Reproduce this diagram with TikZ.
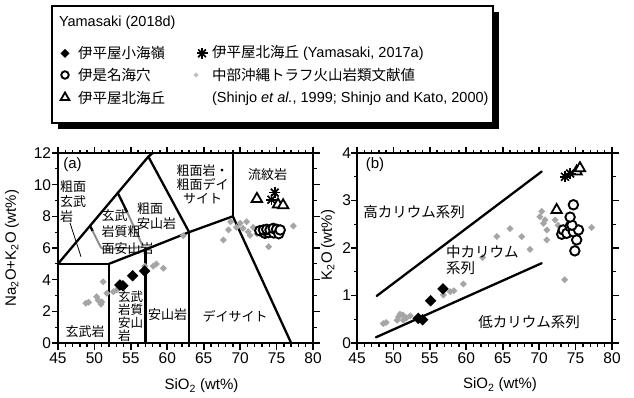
\documentclass[tikz,border=0pt]{standalone}
\usepackage{fontspec}
\setmainfont{Liberation Sans}
\newfontfamily\jp{Noto Sans CJK JP}
\usetikzlibrary{shapes.geometric}
\definecolor{ptgray}{RGB}{165,165,165}
\definecolor{lggray}{RGB}{190,190,190}
\definecolor{boxgray}{RGB}{140,140,140}
\newcommand\fsTick{\fontsize{15.5}{18}\selectfont}
\newcommand\fsLeg{\fontsize{14.5}{17}\selectfont}
\newcommand\fsLab{\fontsize{15}{18}\selectfont}
\tikzset{
  every node/.style={inner sep=0pt,outer sep=0pt},
  frm/.style={line width=2pt},
  bnd/.style={line width=2.3pt,line cap=round,line join=round},
  gbnd/.style={line width=1.9pt,draw=boxgray,rounded corners=2pt},
  tkmaj/.style={line width=1.6pt},
  tkmin/.style={line width=1.3pt},
  gpt/.style={diamond,fill=ptgray,minimum size=7pt},
  bdia/.style={diamond,fill=black,minimum size=11.5pt},
  ocir/.style={circle,draw=black,fill=white,line width=1.9pt,minimum size=9.5pt},
  otri/.style={regular polygon,regular polygon sides=3,draw=black,fill=white,line width=1.8pt,minimum size=12pt},
  astk/.pic={\foreach \a in {0,45,90,135}{\draw[line width=1.7pt] (\a:5.5pt)--(\a+180:5.5pt);}},
  tlab/.style={font=\fsTick},
  jpa/.style={font=\fontsize{13}{15}\selectfont\jp},
  jpb/.style={font=\fontsize{14.5}{16.6}\selectfont\jp},
}
\begin{document}
\begin{tikzpicture}[x=1pt,y=1pt]
\useasboundingbox (0,0) rectangle (634,397);

% ---------------- legend ----------------
\fill[black] (58,268) rectangle (499,385);
\draw[line width=1.6pt,fill=white] (52,274) rectangle (493,391);
\node[anchor=west,font=\fsLeg] (lgt) at (59,374) {Yamasaki (2018d)};
\node[bdia,minimum size=9pt] (lgm1) at (65,343.7) {};
\node[anchor=west,font=\fsLeg\jp] (lgl1) at (78,343.7) {伊平屋小海嶺};
\node[ocir,minimum size=7.5pt] (lgm2) at (65,322) {};
\node[anchor=west,font=\fsLeg\jp] (lgl2) at (78,322) {伊是名海穴};
\node[otri,minimum size=10pt] (lgm3) at (65,299.5) {};
\node[anchor=west,font=\fsLeg\jp] (lgl3) at (78,298.7) {伊平屋北海丘};
\pic at (202,343.7) {astk};
\node[anchor=west,font=\fsLeg] (lgl4) at (212,343.7) {{\jp 伊平屋北海丘} (Yamasaki, 2017a)};
\node[diamond,fill=lggray,minimum size=5pt] (lgm5) at (196,322) {};
\node[anchor=west,font=\fsLeg\jp] (lgl5) at (212,322) {中部沖縄トラフ火山岩類文献値};
\node[anchor=west,font=\fsLeg] (lgl6) at (212,298.7) {(Shinjo \textit{et al.}, 1999; Shinjo and Kato, 2000)};

% ---------------- panel (a) ----------------
\begin{scope}[shift={(-269.857pt,54pt)},x=7.285714pt,y=15.833333pt]
  \draw[bnd] (45,5) -- (52,5) -- (52,0);
  \draw[bnd] (52,5) -- (57,5.9) -- (63,7) -- (69,8) -- (77,0);
  \draw[bnd] (57,0) -- (57,5.9);
  \draw[bnd] (63,0) -- (63,7);
  \draw[bnd] (69,8) -- (69,12);
  \draw[bnd] (45,5) -- (57.4,11.77) -- (58.0,12);
  \draw[bnd] (57.4,11.77) -- (63,7);
  \draw[bnd] (49.4,7.4) -- (49.75,7.08);
  \draw[bnd] (53.2,9.48) -- (54.5,8.26);
  \draw[gbnd] (49.75,7.08) -- (51.0,5.92) -- (56.7,6.05) -- (54.5,8.26);
  \draw[line width=0.8pt] (46.65,7.58) -- (48.16,5.45);
  % data
  \foreach \p [count=\i] in {(48.84,2.51),(49.2,2.57),(50.3,2.92),(50.5,2.7),(50.9,2.45),(51.0,2.6),(51.2,3.87),(51.7,3.14),(52.6,3.24),(53.05,3.35),(56.9,4.86),(58.08,4.86),(58.5,4.99),(59.45,4.72),(62.2,6.78),(68.7,7.66),(68.4,7.14),(67.7,6.5),(70.0,7.56),(70.4,7.24),(70.9,7.66),(71.1,7.03),(71.8,7.3),(73.9,6.08),(77.3,7.39),(69.5,7.3),(71.35,6.8),(72.3,6.9)}
    \node[gpt] (ga\i) at \p {};
  \foreach \p [count=\i] in {(53.5,3.66),(53.9,3.62),(55.25,4.25),(56.9,4.55)}
    \node[bdia] (da\i) at \p {};
  \foreach \p [count=\i] in {(72.7,7.09),(73.4,6.93),(73.2,7.14),(73.9,6.97),(73.65,7.18),(74.1,7.14),(74.6,6.95),(74.55,7.24),(75.0,7.18),(75.3,6.9),(75.5,7.14)}
    \node[ocir] (ca\i) at \p {};
  \foreach \p [count=\i] in {(72.3,9.1),(75.2,8.75),(75.9,8.7)}
    \node[otri] (ta\i) at \p {};
  \foreach \p in {(74.3,9.05),(74.75,9.5)}
    \pic at \p {astk};
  % frame and ticks
  \draw[frm] (45,0) rectangle (80,12);
  \foreach \x in {45,50,...,80} {
    \draw[tkmaj] (\x,0) -- ++(0,-6.5pt);
    \draw[tkmaj] (\x,12) -- ++(0,6.5pt);
    \node[tlab] (xa\x) at (\x,0) [yshift=-15pt] {\x};
  }
  \foreach \x in {46,...,79} {
    \draw[tkmin] (\x,0) -- ++(0,-3.5pt);
    \draw[tkmin] (\x,12) -- ++(0,3.5pt);
  }
  \foreach \y in {0,2,...,12} {
    \draw[tkmaj] (45,\y) -- ++(-6.5pt,0);
    \draw[tkmaj] (80,\y) -- ++(6.5pt,0);
    \node[tlab,anchor=east] (ya\y) at (45,\y) [xshift=-7pt] {\y};
  }
  \foreach \y in {1,3,...,11} {
    \draw[tkmin] (45,\y) -- ++(-3.5pt,0);
    \draw[tkmin] (80,\y) -- ++(3.5pt,0);
  }
\end{scope}
% labels (a)
\node[font=\fsLab] (pa) at (72.5,232) {(a)};
\node[jpa,align=left,anchor=west] (la1) at (60,195.3) {粗面\\玄武\\岩};
\node[font=\fontsize{13}{16.5}\selectfont\jp,align=left,anchor=west] (la2) at (101.7,165.3) {玄武\\岩質粗\\面安山岩};
\node[jpa,align=left,anchor=west] (la3) at (137,181.2) {粗面\\安山岩};
\node[font=\fontsize{13}{14}\selectfont\jp,align=center] (la4) at (202.5,213) {粗面岩・\\粗面デイ\\サイト};
\node[jpa] (la5) at (267.5,222) {流紋岩};
\node[jpa] (la6) at (85,65.3) {玄武岩};
\node[font=\fontsize{12.5}{13}\selectfont\jp,align=left,anchor=west] (la7) at (118,81) {玄武\\岩質\\安山\\岩};
\node[jpa] (la8) at (167.5,82) {安山岩};
\node[jpa] (la9) at (235,80.3) {デイサイト};
\node[font=\fsLab,rotate=90] (yla) at (12,149) {Na\textsubscript{2}O+K\textsubscript{2}O (wt\%)};
\node[font=\fsLab] (xla) at (201.5,11) {SiO\textsubscript{2} (wt\%)};

% ---------------- panel (b) ----------------
\begin{scope}[shift={(29.143pt,54pt)},x=7.285714pt,y=47.5pt]
  \draw[bnd] (47.7,0.99) -- (70.35,3.61);
  \draw[bnd] (47.6,0.12) -- (70.35,1.68);
  \foreach \p [count=\i] in {(48.6,0.41),(49.0,0.43),(50.7,0.55),(50.9,0.61),(50.5,0.48),(51.35,0.48),(51.8,0.53),(52.3,0.57),(51.3,0.59),(56.85,1.01),(57.8,1.08),(58.3,1.1),(59.6,1.24),(62.25,1.80),(64.2,2.24),(66.0,2.41),(68.75,1.97),(67.6,2.24),(70.35,2.77),(70.1,2.66),(70.8,2.59),(70.6,2.52),(71.05,2.38),(71.05,2.17),(77.2,2.43),(72.6,2.48),(73.5,1.33),(72.2,2.59)}
    \node[gpt] (gb\i) at \p {};
  \foreach \p [count=\i] in {(53.4,0.52),(54.0,0.49),(55.1,0.89),(56.8,1.14)}
    \node[bdia] (db\i) at \p {};
  \foreach \p [count=\i] in {(73.1,2.29),(73.3,2.38),(73.8,2.31),(74.25,2.45),(74.7,2.34),(75.4,2.38),(75.15,2.17),(74.9,1.94),(74.5,2.48),(74.25,2.65),(74.7,2.91)}
    \node[ocir] (cb\i) at \p {};
  \foreach \p [count=\i] in {(72.4,2.80),(75.15,3.61),(75.6,3.68)}
    \node[otri] (tb\i) at \p {};
  \foreach \p in {(73.55,3.5),(74.25,3.57)}
    \pic at \p {astk};
  \draw[frm] (45,0) rectangle (80,4);
  \foreach \x in {45,50,...,80} {
    \draw[tkmaj] (\x,0) -- ++(0,-6.5pt);
    \draw[tkmaj] (\x,4) -- ++(0,6.5pt);
    \node[tlab] (xb\x) at (\x,0) [yshift=-15pt] {\x};
  }
  \foreach \x in {46,...,79} {
    \draw[tkmin] (\x,0) -- ++(0,-3.5pt);
    \draw[tkmin] (\x,4) -- ++(0,3.5pt);
  }
  \foreach \y in {0,1,...,4} {
    \draw[tkmaj] (45,\y) -- ++(-6.5pt,0);
    \draw[tkmaj] (80,\y) -- ++(6.5pt,0);
    \node[tlab,anchor=east] (yb\y) at (45,\y) [xshift=-6pt] {\y};
  }
  \foreach \y in {0.5,1.5,2.5,3.5} {
    \draw[tkmin] (45,\y) -- ++(-3.5pt,0);
    \draw[tkmin] (80,\y) -- ++(3.5pt,0);
  }
\end{scope}
\node[font=\fsLab] (pb) at (375,232) {(b)};
\node[jpb] (lb1) at (414,185.3) {高カリウム系列};
\node[jpb,align=left,anchor=west] (lb2) at (446,137) {中カリウム\\系列};
\node[jpb] (lb3) at (529,75.3) {低カリウム系列};
\node[font=\fsLab,rotate=90] (ylb) at (328,152) {K\textsubscript{2}O (wt\%)};
\node[font=\fsLab] (xlb) at (500,12) {SiO\textsubscript{2} (wt\%)};
\end{tikzpicture}
\end{document}
